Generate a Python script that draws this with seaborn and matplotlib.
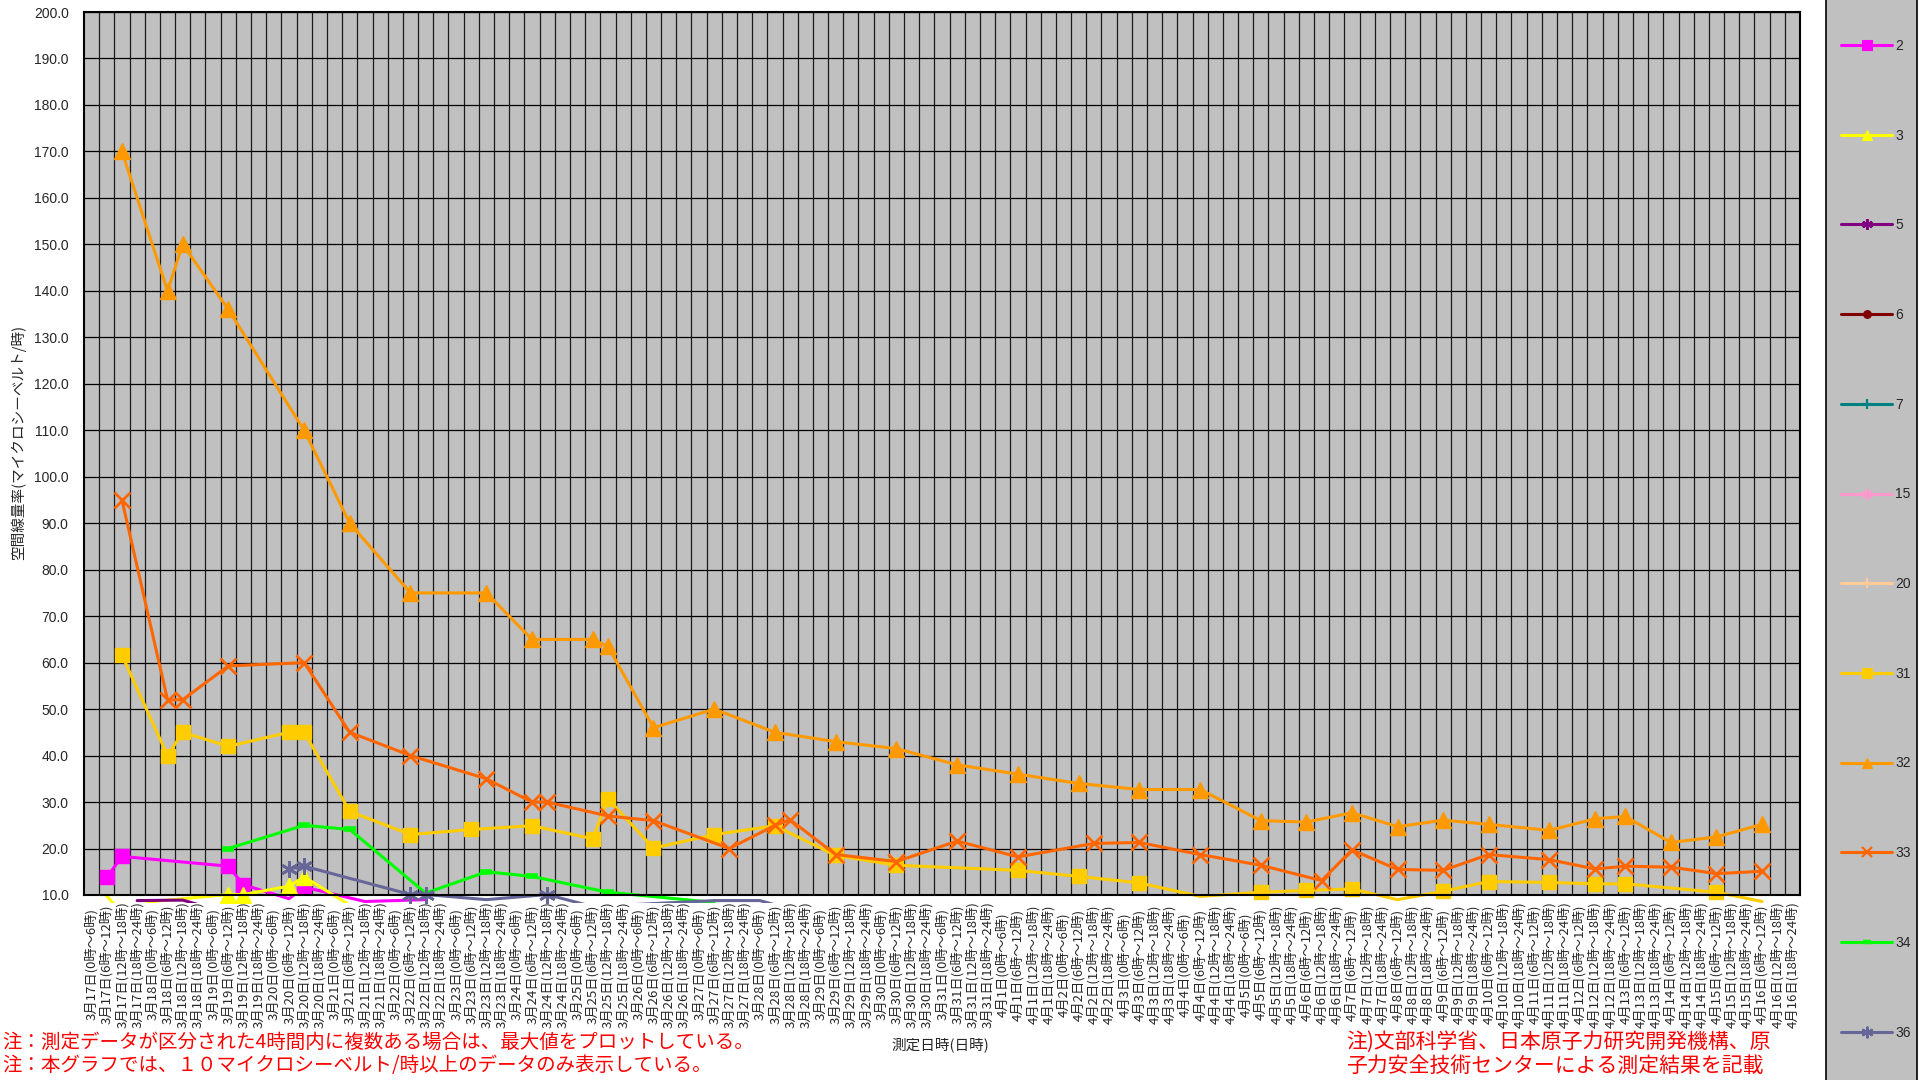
import matplotlib
matplotlib.use('Agg')
import matplotlib.pyplot as plt
import seaborn as sns
import pandas as pd
from matplotlib.lines import Line2D
from matplotlib.patches import Rectangle
from matplotlib.ticker import FormatStrFormatter
from matplotlib.transforms import Bbox, TransformedBbox

# x categories: 6-hour slots; from 4/6 on there is no 0-6 slot
full_days = [(3, d) for d in range(17, 32)] + [(4, d) for d in range(1, 6)]
short_days = [(4, d) for d in range(6, 17)]
slot_hours = [0, 6, 12, 18]

categories = []
cat_keys = []
for m, d in full_days + short_days:
    hours = slot_hours if (m, d) in full_days else slot_hours[1:]
    for h in hours:
        categories.append(f'{m}月{d}日({h}時～{h + 6}時)')
        cat_keys.append(f'{m}/{d} {h}')

# data (uSv/h) per monitoring point, keyed by "month/day start-hour"
s2_t = ['3/17 6', '3/17 12', '3/19 6', '3/19 12', '3/20 6', '3/20 12', '3/21 12', '3/22 12']
s2_v = [13.8, 18.3, 16.2, 12.2, 9.2, 11.7, 8.6, 9.0]

s3_t = ['3/17 6', '3/17 12', '3/18 0', '3/19 6', '3/19 12', '3/20 6', '3/20 12', '3/21 6']
s3_v = [9.8, 6.0, 8.6, 10.1, 10.1, 11.9, 13.9, 7.8]

s5_t = ['3/17 18', '3/18 12', '3/19 0']
s5_v = [8.8, 8.9, 7.0]

s31_t = ['3/17 12', '3/18 6', '3/18 12', '3/19 6', '3/20 6', '3/20 12', '3/21 6', '3/22 6',
         '3/23 6', '3/24 6', '3/25 6', '3/25 12', '3/26 6', '3/27 6', '3/28 6', '3/29 6',
         '3/30 6', '4/1 6', '4/2 6', '4/3 6', '4/4 6', '4/5 6', '4/6 6', '4/7 6', '4/8 6',
         '4/9 6', '4/10 6', '4/11 12', '4/12 12', '4/13 6', '4/15 6', '4/16 6']
s31_v = [61.6, 40.0, 45.0, 42.0, 45.0, 45.0, 28.0, 23.0, 24.1, 24.9, 22.1, 30.7, 20.1, 23.0,
         24.9, 18.5, 16.4, 15.3, 14.0, 12.6, 9.7, 10.6, 11.0, 11.3, 9.0, 10.8, 12.9, 12.7,
         12.4, 12.4, 10.6, 8.6]

s32_t = ['3/17 12', '3/18 6', '3/18 12', '3/19 6', '3/20 12', '3/21 6', '3/22 6', '3/23 12',
         '3/24 6', '3/25 6', '3/25 12', '3/26 6', '3/27 6', '3/28 6', '3/29 6', '3/30 6',
         '3/31 6', '4/1 6', '4/2 6', '4/3 6', '4/4 6', '4/5 6', '4/6 6', '4/7 6', '4/8 6',
         '4/9 6', '4/10 6', '4/11 12', '4/12 12', '4/13 6', '4/14 6', '4/15 6', '4/16 6']
s32_v = [170, 140, 150, 136, 110, 90, 75, 75, 65, 65, 63.5, 46, 50, 45, 43, 41.5, 38, 36,
         34, 32.7, 32.7, 26, 25.7, 27.7, 24.7, 26.1, 25.2, 23.9, 26.4, 26.9, 21.3, 22.5, 25.2]

s33_t = ['3/17 12', '3/18 6', '3/18 12', '3/19 6', '3/20 12', '3/21 6', '3/22 6', '3/23 12',
         '3/24 6', '3/24 12', '3/25 12', '3/26 6', '3/27 12', '3/28 6', '3/28 12', '3/29 6',
         '3/30 6', '3/31 6', '4/1 6', '4/2 12', '4/3 6', '4/4 6', '4/5 6', '4/6 12', '4/7 6',
         '4/8 6', '4/9 6', '4/10 6', '4/11 12', '4/12 12', '4/13 6', '4/14 6', '4/15 6', '4/16 6']
s33_v = [95, 52, 52, 59.3, 60, 45, 40, 35, 30, 30, 27, 26, 20, 25, 26.2, 18.7, 17.2, 21.6,
         18.2, 21.1, 21.3, 18.7, 16.4, 13.1, 19.7, 15.5, 15.3, 18.7, 17.6, 15.6, 16.2, 16.0,
         14.6, 15.1]

s34_t = ['3/19 6', '3/20 12', '3/21 6', '3/22 12', '3/23 12', '3/24 6', '3/25 12', '3/27 6']
s34_v = [20.0, 25.0, 24.1, 10.4, 15.0, 14.0, 10.6, 8.4]

s36_t = ['3/20 6', '3/20 12', '3/22 6', '3/22 12', '3/23 12', '3/24 12', '3/25 6', '3/27 6',
         '3/28 0', '3/28 12']
s36_v = [15.6, 16.2, 10.1, 10.1, 9.0, 10.1, 7.5, 8.8, 8.8, 7.0]

legend_names = ['2', '3', '5', '6', '7', '15', '20', '31', '32', '33', '34', '36']

# styles: color, marker, marker size, marker edge width, filled
star = (6, 2, 0)
styles = {
    '2': ('#FF00FF', 's', 10, 1, True),
    '3': ('#FFFF00', '^', 11, 1, True),
    '5': ('#800080', star, 11, 2, False),
    '6': ('#800000', 'o', 8, 1, True),
    '7': ('#008080', '+', 10, 2, False),
    '15': ('#FF99CC', star, 11, 2, False),
    '20': ('#FFCC99', '+', 10, 2, False),
    '31': ('#FFCC00', 's', 10, 1, True),
    '32': ('#FF9900', '^', 11, 1, True),
    '33': ('#FF6600', 'x', 11, 2, False),
    '34': ('#00FF00', '_', 8, 4, False),
    '36': ('#666699', star, 12, 2, False),
}

sns.set_style('white')
cjk = ['Noto Sans CJK JP', 'DejaVu Sans']
plt.rcParams['font.family'] = cjk
latin = 'Liberation Sans'

W, H = 1924, 1080
fig = plt.figure(figsize=(W / 100, H / 100), dpi=100)
ax = fig.add_axes([84 / W, 1 - 895 / H, (1800 - 84) / W, (895 - 12) / H])
ax.set_facecolor('#C0C0C0')

pos = {k: i for i, k in enumerate(cat_keys)}
series = [('2', s2_t, s2_v), ('3', s3_t, s3_v), ('5', s5_t, s5_v),
          ('31', s31_t, s31_v), ('32', s32_t, s32_v), ('33', s33_t, s33_v),
          ('34', s34_t, s34_v), ('36', s36_t, s36_v)]

for name, t, v in series:
    df = pd.DataFrame({'x': [pos[k] for k in t], 'y': v})
    c, m, ms, mew, filled = styles[name]
    shown = [i for i, val in enumerate(v) if val >= 10]
    sns.lineplot(data=df, x='x', y='y', ax=ax, color=c, lw=2.2, marker=m, ms=ms,
                 mew=mew, mec=c, mfc=c if filled else 'none', markevery=shown,
                 sort=False, estimator=None, legend=False)

# Excel lets lines spill a few pixels below the plot area
clip = TransformedBbox(Bbox([[0, -0.009], [1, 1]]), ax.transAxes)
for line in ax.lines:
    line.set_clip_path(None)
    line.set_clip_box(clip)

ax.set_xlim(-0.5, len(categories) - 0.5)
ax.set_ylim(10, 200)
ax.set_yticks(range(10, 201, 10))
ax.yaxis.set_major_formatter(FormatStrFormatter('%.1f'))
ax.set_xticks(range(len(categories)))
ax.set_xticks([i + 0.5 for i in range(len(categories) - 1)], minor=True)
ax.set_xticklabels(categories, rotation=90, va='center', ha='center', fontsize=9.5)
for lab in ax.get_yticklabels():
    lab.set_family(latin)
ax.tick_params(axis='x', which='both', length=0, pad=50)
ax.tick_params(axis='y', length=0, pad=11, labelsize=10)
ax.grid(False)
ax.grid(True, which='minor', axis='x', color='#1a1a1a', lw=0.9)
ax.grid(True, which='major', axis='y', color='#000000', lw=0.9)
ax.set_axisbelow(True)
for sp in ax.spines.values():
    sp.set_color('black')
    sp.set_linewidth(1.5)
ax.set_xlabel('')
ax.set_ylabel('')

fig.text(18 / W, 1 - 442 / H, '空間線量率(マイクロシーベルト/時)', rotation=90,
         va='center', ha='center', fontsize=10.5)
fig.text(940 / W, 1 - 1045 / H, '測定日時(日時)', va='center', ha='center', fontsize=10.5)

red = '#FF0000'
fig.text(2 / W, 1 - 1042 / H, '注：測定データが区分された4時間内に複数ある場合は、最大値をプロットしている。',
         color=red, fontsize=14, va='center', ha='left')
fig.text(2 / W, 1 - 1065 / H, '注：本グラフでは、１０マイクロシーベルト/時以上のデータのみ表示している。',
         color=red, fontsize=14, va='center', ha='left')
fig.text(1346 / W, 1 - 1042 / H, '注)文部科学省、日本原子力研究開発機構、原',
         color=red, fontsize=15, va='center', ha='left')
fig.text(1346 / W, 1 - 1066 / H, '子力安全技術センターによる測定結果を記載',
         color=red, fontsize=15, va='center', ha='left')

# legend panel on the right
fig.add_artist(Rectangle((1826 / W, -0.01), (1917 - 1826) / W, 1.02, transform=fig.transFigure,
                         facecolor='#C0C0C0', edgecolor='black', lw=1.2, zorder=0))
handles = []
for name in legend_names:
    c, m, ms, mew, filled = styles[name]
    handles.append(Line2D([], [], color=c, lw=2.2, marker=m, ms=ms * 0.7, mew=mew * 0.8,
                          mec=c, mfc=c if filled else 'none'))
fig.legend(handles, legend_names, loc='upper left', bbox_to_anchor=(1834 / W, 1 - 32 / H),
           frameon=False, labelspacing=5.45, handlelength=3.7, handletextpad=0.2,
           borderpad=0, prop={'family': latin, 'size': 10})

fig.savefig('out.png', dpi=100)
